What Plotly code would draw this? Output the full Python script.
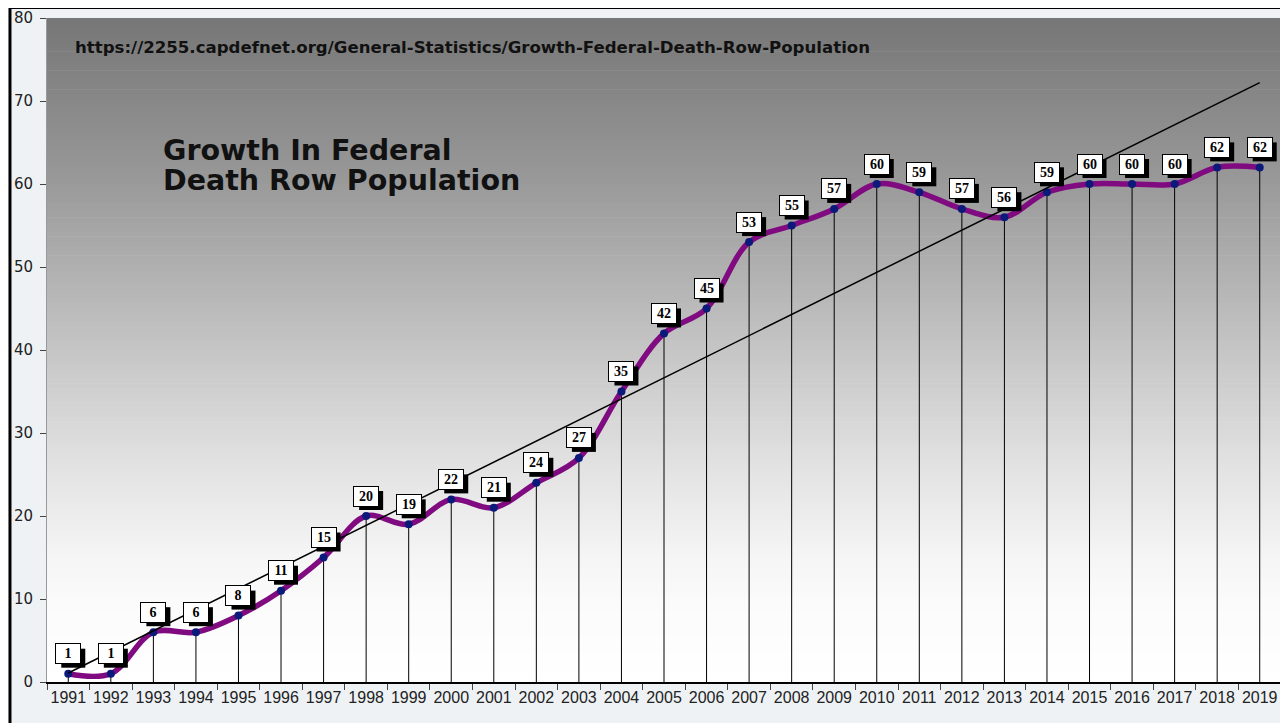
import numpy as np
import plotly.graph_objects as go

years = [str(y) for y in range(1991, 2020)]
population = [1, 1, 6, 6, 8, 11, 15, 20, 19, 22, 21, 24, 27, 35, 42,
              45, 53, 55, 57, 60, 59, 57, 56, 59, 60, 60, 60, 62, 62]

url_text = 'https://2255.capdefnet.org/General-Statistics/Growth-Federal-Death-Row-Population'
title_lines = ['Growth In Federal', 'Death Row Population']

# linear trend (Excel style)
idx = np.arange(len(population))
slope, icpt = np.polyfit(idx, population, 1)
trend = slope * idx + icpt

# drop lines from each point to the axis
drop_x, drop_y = [], []
for yr, v in zip(years, population):
    drop_x += [yr, yr, None]
    drop_y += [0, v, None]

fig = go.Figure()
fig.add_trace(go.Scatter(
    x=drop_x, y=drop_y, mode='lines',
    line=dict(color='black', width=1),
    hoverinfo='skip', showlegend=False,
))
fig.add_trace(go.Scatter(
    x=years, y=population, mode='lines+markers',
    line=dict(color='#800a80', width=5.5, shape='spline', smoothing=1),
    marker=dict(color='#0b1a7a', size=8),
    showlegend=False,
))
fig.add_trace(go.Scatter(
    x=years, y=trend, mode='lines',
    line=dict(color='black', width=1.5),
    hoverinfo='skip', showlegend=False,
))

# outer frame + gradient plot background
shapes = [dict(type='rect', xref='paper', yref='paper',
               x0=-0.0300, x1=1.0049, y0=-0.07, y1=1.0160,
               line=dict(color='black', width=3), fillcolor='#eef2f5',
               layer='below')]
stops = [(0.0, 118), (0.25, 154), (0.515, 200), (0.636, 220),
         (0.80, 244), (0.88, 251), (1.0, 255)]
n_band = 140
fr = np.array([s[0] for s in stops])
gv = np.array([s[1] for s in stops])
for i in range(n_band):
    t = (i + 0.5) / n_band
    g = int(round(np.interp(t, fr, gv)))
    shapes.append(dict(type='rect', xref='paper', yref='paper',
                       x0=0, x1=1, y0=1 - (i + 1) / n_band - 0.001, y1=1 - i / n_band,
                       line=dict(width=0), fillcolor=f'rgb({g},{g},{g})',
                       layer='below'))

# value labels: shadow box (shape anchored on the point) + white box (annotation)
annotations = []
for i, v in enumerate(population):
    shapes.append(dict(
        type='rect', xref='x', yref='y',
        xsizemode='pixel', ysizemode='pixel', xanchor=i, yanchor=v,
        x0=-7, x1=17, y0=6, y1=25,
        fillcolor='black', line=dict(width=0), layer='above',
    ))
    annotations.append(dict(
        x=i, y=v, text=f'<b>{v}</b>', showarrow=False,
        xshift=0, yshift=20, width=22, height=17,
        bgcolor='white', bordercolor='black', borderwidth=1,
        font=dict(family='Liberation Serif', size=14, color='black'),
    ))

annotations.append(dict(
    x=0.021, y=0.956, xref='paper', yref='paper', xanchor='left', yanchor='middle',
    text=f'<b>{url_text}</b>', showarrow=False,
    font=dict(family='DejaVu Sans', size=16.6, color='#111'),
))
for ypos, line in zip([0.801, 0.756], title_lines):
    annotations.append(dict(
        x=0.0925, y=ypos, xref='paper', yref='paper', xanchor='left', yanchor='middle',
        text=f'<b>{line}</b>', showarrow=False,
        font=dict(family='DejaVu Sans', size=28.5, color='#111'),
    ))

fig.update_layout(
    width=1280, height=715,
    margin=dict(l=39, r=7, t=10, b=41),
    paper_bgcolor='white',
    plot_bgcolor='rgba(0,0,0,0)',
    shapes=shapes,
    annotations=annotations,
    xaxis=dict(
        type='category', tickson='boundaries', range=[-0.5, len(years) - 0.5],
        ticks='outside', ticklen=6, tickcolor='#444', tickangle=0,
        showline=True, linecolor='black', linewidth=1.5,
        showgrid=False, zeroline=False, automargin=False,
        tickfont=dict(family='Liberation Sans', size=16, color='#222'),
    ),
    yaxis=dict(
        range=[0, 80], dtick=10,
        ticks='outside', ticklen=6, tickcolor='#444', ticklabelstandoff=4,
        showline=True, linecolor='#999', linewidth=1, mirror=True,
        showgrid=False, zeroline=False, automargin=False,
        tickfont=dict(family='DejaVu Sans', size=15, color='#222'),
    ),
    showlegend=False,
)

fig.write_html('out.html')
